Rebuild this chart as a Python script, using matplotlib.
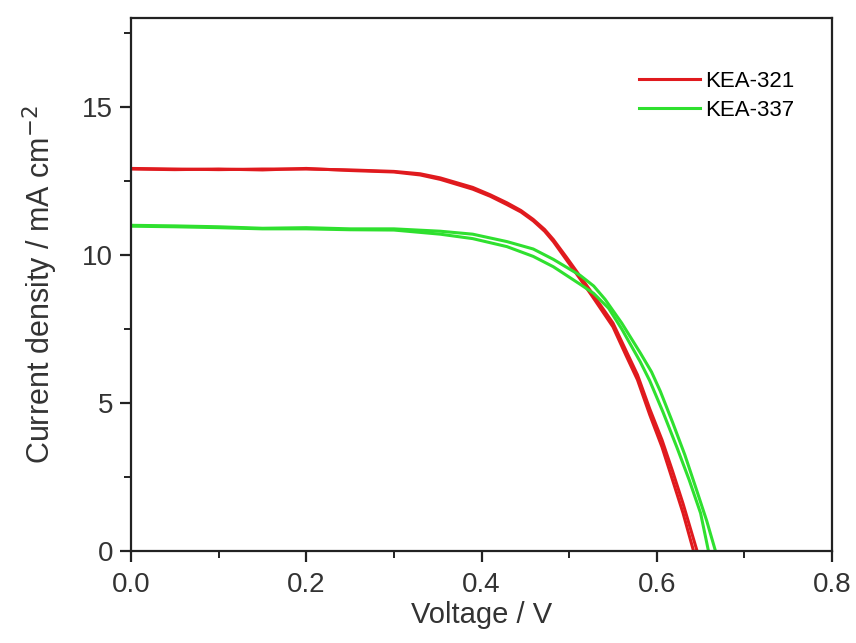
import numpy as np
import matplotlib.pyplot as plt

plt.rcParams['font.family'] = ['Liberation Sans', 'DejaVu Sans']

# KEA-321, two scans
v_321a = [0.0, 0.05, 0.1, 0.15, 0.2, 0.25, 0.3, 0.33, 0.353, 0.39, 0.41, 0.429, 0.445, 0.459,
          0.472, 0.482, 0.497, 0.513, 0.526, 0.55, 0.565, 0.578, 0.592, 0.606, 0.618, 0.63, 0.642]
j_321a = [12.9, 12.88, 12.9, 12.87, 12.92, 12.85, 12.8, 12.7, 12.55, 12.22, 11.98, 11.7, 11.45, 11.15,
          10.8, 10.45, 9.83, 9.17, 8.62, 7.57, 6.6, 5.78, 4.6, 3.51, 2.4, 1.28, 0.0]
v_321b = [0.0, 0.05, 0.1, 0.15, 0.2, 0.25, 0.3, 0.33, 0.353, 0.39, 0.41, 0.429, 0.445, 0.459,
          0.472, 0.482, 0.497, 0.513, 0.526, 0.55, 0.565, 0.578, 0.592, 0.606, 0.618, 0.63, 0.646]
j_321b = [12.92, 12.9, 12.88, 12.9, 12.9, 12.87, 12.82, 12.74, 12.6, 12.28, 12.03, 11.76, 11.5, 11.2,
          10.86, 10.52, 9.92, 9.26, 8.72, 7.7, 6.76, 5.95, 4.8, 3.75, 2.7, 1.6, 0.0]

# KEA-337, two scans
v_337a = [0.0, 0.05, 0.1, 0.15, 0.2, 0.25, 0.3, 0.353, 0.39, 0.429, 0.459, 0.482, 0.513, 0.528,
          0.541, 0.56, 0.581, 0.594, 0.604, 0.618, 0.632, 0.645, 0.657, 0.667]
j_337a = [11.0, 10.98, 10.95, 10.9, 10.92, 10.88, 10.88, 10.8, 10.7, 10.45, 10.2, 9.85, 9.3, 8.95,
          8.5, 7.7, 6.7, 6.05, 5.4, 4.35, 3.25, 2.1, 1.02, 0.0]
v_337b = [0.0, 0.05, 0.1, 0.15, 0.2, 0.25, 0.3, 0.353, 0.39, 0.429, 0.459, 0.482, 0.513, 0.528,
          0.545, 0.56, 0.581, 0.592, 0.607, 0.623, 0.637, 0.65, 0.659]
j_337b = [10.97, 10.95, 10.92, 10.88, 10.88, 10.85, 10.84, 10.7, 10.55, 10.28, 9.95, 9.6, 9.0, 8.7,
          8.2, 7.5, 6.4, 5.75, 4.7, 3.5, 2.4, 1.28, 0.0]

red = '#e01a1e'
green = '#2fe02f'

fig = plt.figure(figsize=(8.56, 6.43), dpi=100)
ax = fig.add_axes([0.153, 0.143, 0.819, 0.829])

ax.plot(v_321a, j_321a, color=red, lw=2.2, label='KEA-321')
ax.plot(v_321b, j_321b, color=red, lw=2.2)
ax.plot(v_337a, j_337a, color=green, lw=2.2, label='KEA-337')
ax.plot(v_337b, j_337b, color=green, lw=2.2)

ax.set_xlim(0, 0.8)
ax.set_ylim(0, 18)
ax.set_xticks([0.0, 0.2, 0.4, 0.6, 0.8])
ax.set_xticklabels(['0.0', '0.2', '0.4', '0.6', '0.8'])
ax.set_yticks([0, 5, 10, 15])
ax.set_xticks(np.arange(0.1, 0.8, 0.2), minor=True)
ax.set_yticks([2.5, 7.5, 12.5, 17.5], minor=True)

for s in ax.spines.values():
    s.set_linewidth(1.6)
    s.set_color('#222222')
ax.tick_params(which='major', direction='out', length=8, width=1.6, labelsize=20, colors='#222222')
ax.tick_params(which='minor', direction='out', length=5, width=1.4, colors='#222222')
ax.tick_params(axis='x', pad=7)
ax.tick_params(axis='y', pad=5)
ax.tick_params(labelcolor='#333333')

ax.set_xlabel('Voltage / V', fontsize=21, color='#333333', labelpad=2)
ax.set_ylabel('Current density / mA cm$^{-2}$', fontsize=22, color='#333333', labelpad=16)

ax.legend(loc='upper left', bbox_to_anchor=(619 / 856, 1 - 51 / 643), bbox_transform=fig.transFigure,
          frameon=False, fontsize=16, handlelength=2.75, handletextpad=0.23, labelspacing=0.35)

plt.savefig('out.png', dpi=100)
